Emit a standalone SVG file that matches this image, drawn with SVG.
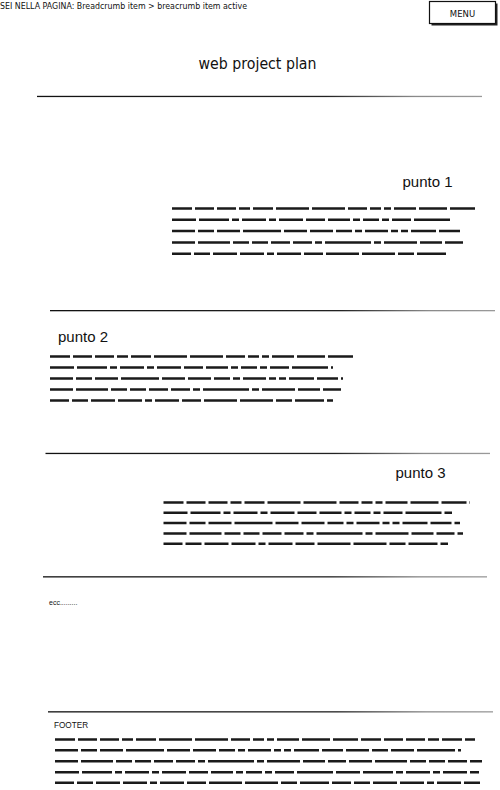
<svg xmlns="http://www.w3.org/2000/svg" width="500" height="790" viewBox="0 0 500 790">
<style>
.hand{font-family:"DejaVu Sans","Liberation Sans",sans-serif;fill:#111}
.arial{font-family:"Liberation Sans",Arial,sans-serif;fill:#111}
.sq{stroke:#1a1a1a;stroke-width:2.5;fill:none;stroke-linecap:butt}
.d1{stroke-dasharray:20 3 19 3 19 3 11 3 20 3 33 3 33 3 19 3 11 3 7 3 22 3 28 3 25 3}
.d2{stroke-dasharray:24 3 30 3 7 3 24 3 7 3 24 3 19 3 22 3 7 3 16 3 7 3 19 3 36 3}
.d3{stroke-dasharray:23 3 16 3 23 3 38 3 23 3 23 3 16 3 7 3 23 3 7 3 7 3 25 3 21 3}
.d4{stroke-dasharray:23 3 32 3 16 3 16 3 19 3 19 3 7 3 46 3 7 3 33 3 22 3 18 3}
.d5{stroke-dasharray:19 3 16 3 24 3 24 3 7 3 24 3 19 3 33 3 33 3 16 3 29 3}
.rule{fill:url(#ruleGrad)}
</style>
<defs>
<linearGradient id="ruleGrad" x1="0" y1="0" x2="1" y2="0">
<stop offset="0" stop-color="#111"/>
<stop offset="0.65" stop-color="#222"/>
<stop offset="0.85" stop-color="#8a8a8a"/>
<stop offset="1" stop-color="#9a9a9a"/>
</linearGradient>
</defs>
<rect width="500" height="790" fill="#fff"/>

<g id="breadcrumb">
<text class="hand" x="0" y="9" font-size="8.6" textLength="247" lengthAdjust="spacingAndGlyphs">SEI NELLA PAGINA: Breadcrumb item &gt; breacrumb item active</text>
</g>

<g id="menu">
<rect x="431.5" y="3.5" width="66" height="22" fill="#222"/>
<rect x="429.5" y="1.5" width="66" height="22" fill="#fff" stroke="#111" stroke-width="1.2"/>
<text class="hand" x="462.5" y="16.5" font-size="8.5" text-anchor="middle">MENU</text>
</g>

<g id="title">
<text class="hand" x="257.5" y="69" font-size="15.5" text-anchor="middle" textLength="118" lengthAdjust="spacingAndGlyphs">web project plan</text>
</g>

<g id="rules">
<rect class="rule" x="37" y="95.8" width="445" height="1.3"/>
<rect class="rule" x="50" y="310" width="445" height="1.3"/>
<rect class="rule" x="45.5" y="452.8" width="444.5" height="1.3"/>
<rect class="rule" x="43" y="576.2" width="444" height="1.3"/>
<rect class="rule" x="48" y="711.2" width="445" height="1.3"/>
</g>

<g id="punto1">
<text class="arial" x="402.5" y="187" font-size="15">punto 1</text>
<path class="sq d1" d="M172 208.5H475"/>
<path class="sq d2" d="M172 219.8H453"/>
<path class="sq d3" d="M172 231.1H460"/>
<path class="sq d4" d="M172 242.4H463"/>
<path class="sq d5" d="M172 253.7H446"/>
</g>

<g id="punto2">
<text class="arial" x="58" y="342" font-size="15">punto 2</text>
<path class="sq d1" d="M50 356.5H353"/>
<path class="sq d2" d="M50 367.5H333"/>
<path class="sq d3" d="M50 378.5H343"/>
<path class="sq d4" d="M50 389.5H342"/>
<path class="sq d5" d="M50 400.5H333"/>
</g>

<g id="punto3">
<text class="arial" x="395.5" y="477.5" font-size="15">punto 3</text>
<path class="sq d1" d="M163.5 502.5H470"/>
<path class="sq d2" d="M163.5 512.8H452"/>
<path class="sq d3" d="M163.5 523.1H460"/>
<path class="sq d4" d="M163.5 533.4H463"/>
<path class="sq d5" d="M163.5 543.7H448"/>
</g>

<g id="ecc">
<text class="arial" x="49" y="605" font-size="7">ecc.........</text>
</g>

<g id="footer">
<text class="arial" x="54" y="728" font-size="8.2">FOOTER</text>
<path class="sq d1" d="M55 739.5H475"/>
<path class="sq d3" d="M55 750.3H461"/>
<path class="sq d4" d="M55 761.3H482"/>
<path class="sq d2" d="M55 772.2H479"/>
<path class="sq d5" d="M55 782.8H480"/>
</g>
</svg>
